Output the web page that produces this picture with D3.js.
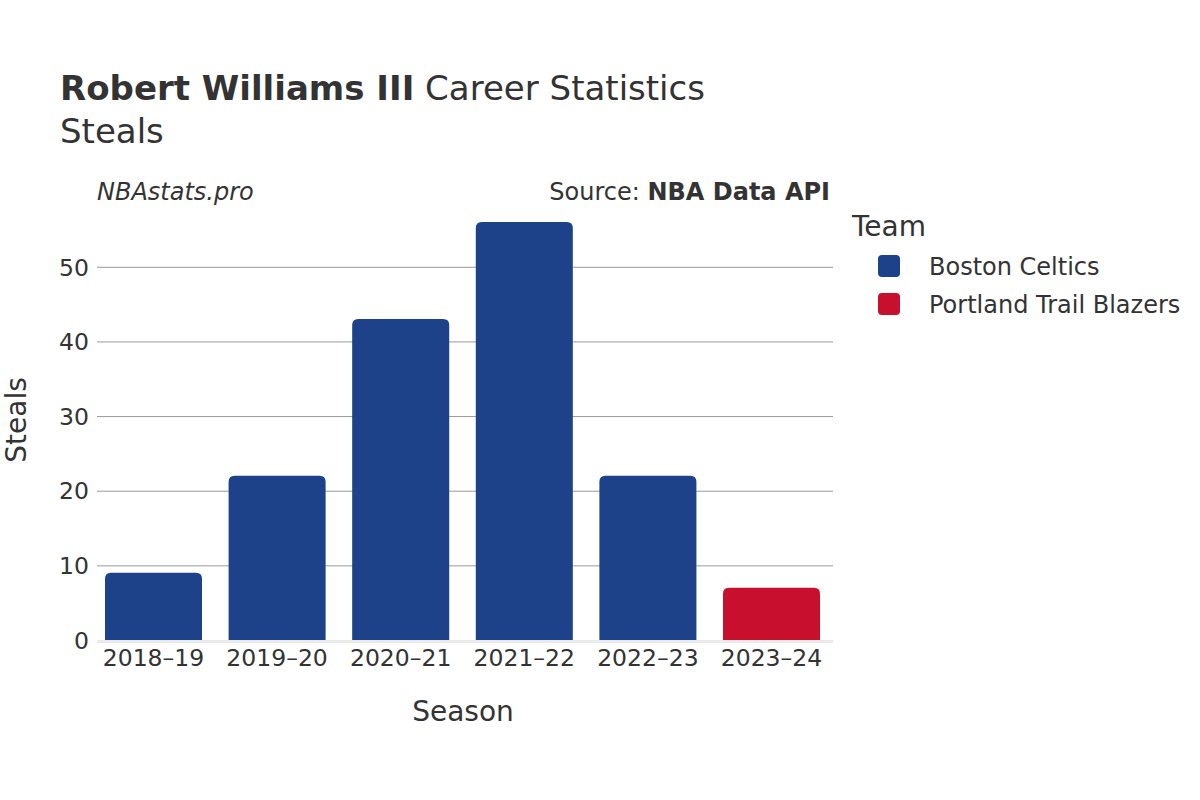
<!DOCTYPE html>
<html lang="en">
<head>
<meta charset="utf-8">
<title>Robert Williams III Steals</title>
<style>
  body { margin: 0; background: #fff; }
  svg text { font-family: "DejaVu Sans", sans-serif; fill: #333; }
  .grid line { stroke: #999; stroke-width: 1; }
  .grid path { display: none; }
  .tick text { font-size: 23.5px; }
</style>
</head>
<body>
<script src="https://cdn.jsdelivr.net/npm/d3@7"></script>
<script>

var seasons = ["2018\u201319", "2019\u201320", "2020\u201321", "2021\u201322", "2022\u201323", "2023\u201324"];
var steals = [9, 22, 43, 56, 22, 7];
var teams = ["Boston Celtics", "Boston Celtics", "Boston Celtics", "Boston Celtics", "Boston Celtics", "Portland Trail Blazers"];
var legendTeams = ["Boston Celtics", "Portland Trail Blazers"];
var teamColors = ["#1d428a", "#c8102e"];
var yTicks = [0, 10, 20, 30, 40, 50];

var w = 1200, h = 800;
var plotLeft = 97, plotRight = 833, plotTop = 222, plotBottom = 640;

var svg = d3.select("body").append("svg")
  .attr("width", w)
  .attr("height", h);

// bands run slightly left of the plot frame, as in the original
var x = d3.scaleBand().domain(seasons).range([91.7, 833.3]).paddingInner(0.215).paddingOuter(0.1075);
var y = d3.scaleLinear().domain([0, 56]).range([plotBottom, plotTop]);
var color = d3.scaleOrdinal().domain(legendTeams).range(teamColors);

// gridlines
svg.append("g")
  .attr("class", "grid")
  .attr("transform", "translate(" + plotLeft + ",0)")
  .call(d3.axisLeft(y).tickValues(yTicks.slice(1)).tickSize(-(plotRight - plotLeft)).tickFormat(""));

// y tick labels
svg.append("g")
  .attr("transform", "translate(" + plotLeft + ",0)")
  .call(d3.axisLeft(y).tickValues(yTicks).tickSize(0).tickPadding(8))
  .call(function(g){ g.select(".domain").remove(); })
  .selectAll("text").attr("dy", "0.35em");

// bars with rounded tops
function barPath(x0, y0, bw, bh, r) {
  r = Math.min(r, bh);
  return "M" + x0 + "," + (y0 + bh) +
    "V" + (y0 + r) +
    "Q" + x0 + "," + y0 + " " + (x0 + r) + "," + y0 +
    "H" + (x0 + bw - r) +
    "Q" + (x0 + bw) + "," + y0 + " " + (x0 + bw) + "," + (y0 + r) +
    "V" + (y0 + bh) + "Z";
}

svg.selectAll("path.bar")
  .data(steals)
  .enter().append("path")
  .attr("class", "bar")
  .attr("fill", function(d, i){ return color(teams[i]); })
  .attr("d", function(d, i){
    return barPath(x(seasons[i]), y(d), x.bandwidth(), y(0) - y(d), 6);
  });

// zero line
svg.append("line")
  .attr("x1", plotLeft).attr("x2", plotRight)
  .attr("y1", y(0) + 1.5).attr("y2", y(0) + 1.5)
  .attr("stroke", "#ebebeb").attr("stroke-width", 3);

// x axis labels
svg.append("g")
  .attr("transform", "translate(0," + (plotBottom + 3) + ")")
  .call(d3.axisBottom(x).tickSize(0).tickPadding(6))
  .call(function(g){ g.select(".domain").remove(); })
  .selectAll("text").attr("dy", "0.71em");

// titles
var title = svg.append("text").attr("x", 60).attr("y", 100).style("font-size", "34px");
title.append("tspan").style("font-weight", "bold").text("Robert Williams III");
title.append("tspan").text(" Career Statistics");
svg.append("text").attr("x", 60).attr("y", 143).style("font-size", "34px").text("Steals");

svg.append("text").attr("x", 97).attr("y", 200)
  .style("font-size", "24px").style("font-style", "italic").text("NBAstats.pro");

var src = svg.append("text").attr("x", 830).attr("y", 200)
  .attr("text-anchor", "end").style("font-size", "24px");
src.append("tspan").text("Source: ");
src.append("tspan").style("font-weight", "bold").text("NBA Data API");

// axis titles
svg.append("text").attr("x", 463).attr("y", 721)
  .attr("text-anchor", "middle").style("font-size", "28px").text("Season");
svg.append("text")
  .attr("transform", "translate(26,420) rotate(-90)")
  .attr("text-anchor", "middle").style("font-size", "28px").text("Steals");

// legend
svg.append("text").attr("x", 852).attr("y", 236).style("font-size", "28px").text("Team");
var lg = svg.selectAll("g.legend")
  .data(legendTeams)
  .enter().append("g")
  .attr("class", "legend")
  .attr("transform", function(d, i){ return "translate(878," + (255 + i * 38) + ")"; });
lg.append("rect")
  .attr("width", 22).attr("height", 22).attr("rx", 4)
  .attr("fill", function(d){ return color(d); });
lg.append("text")
  .attr("x", 51).attr("y", 12).attr("dy", "0.35em")
  .style("font-size", "24px")
  .text(function(d){ return d; });

</script>
</body>
</html>
